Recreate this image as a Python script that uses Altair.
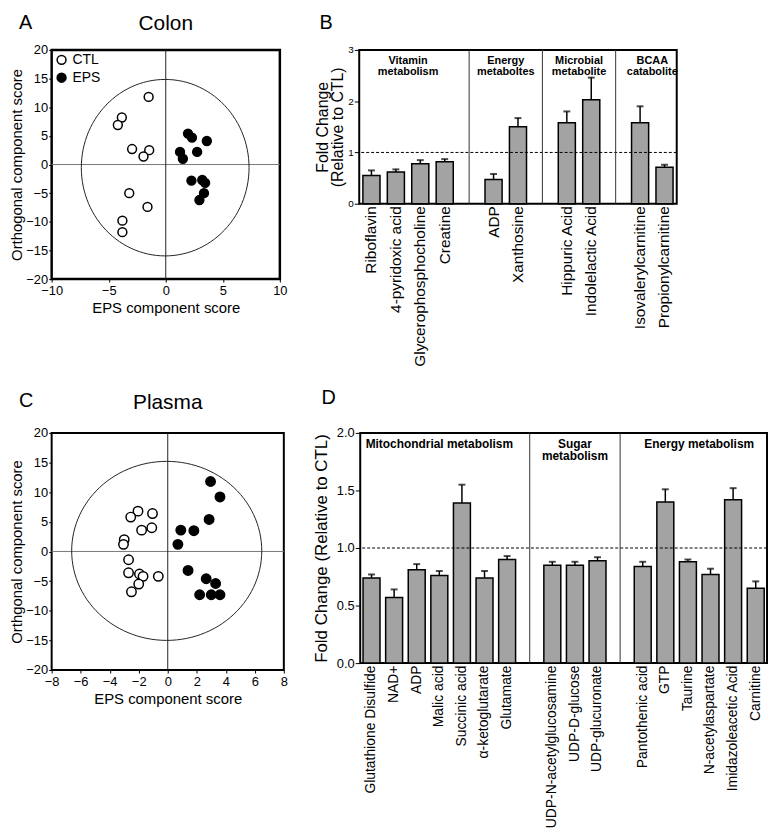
import altair as alt
import pandas as pd

FONT = "Liberation Sans"

# ---------------- Panel A: Colon scores ----------------
colon_ctl_x = [-1.5, -3.85, -4.2, -2.95, -1.45, -1.95, -3.2, -1.6, -3.8, -3.8]
colon_ctl_y = [11.8, 8.2, 6.9, 2.7, 2.5, 1.4, -5.0, -7.4, -9.8, -11.8]
colon_eps_x = [1.95, 2.3, 3.6, 1.25, 1.5, 2.75, 2.25, 3.2, 3.45, 3.35, 2.95]
colon_eps_y = [5.4, 4.7, 4.1, 2.2, 1.0, 2.2, -2.8, -2.7, -3.2, -5.0, -6.2]
colon_ellipse = {"cx": -0.05, "cy": -0.55, "rx": 7.35, "ry": 15.4}

# ---------------- Panel C: Plasma scores ----------------
plasma_ctl_x = [-2.05, -2.55, -1.05, -1.8, -1.1, -3.0, -3.05, -2.7, -2.7, -1.95, -1.7, -0.65, -2.0, -2.5]
plasma_ctl_y = [6.8, 5.8, 6.4, 3.6, 4.0, 2.0, 1.2, -1.4, -3.6, -3.8, -4.2, -4.2, -5.5, -6.8]
plasma_eps_x = [2.95, 3.6, 2.85, 0.9, 1.8, 0.7, 1.4, 2.65, 3.3, 2.2, 3.0, 3.6]
plasma_eps_y = [11.8, 9.2, 5.4, 3.6, 3.5, 1.2, -3.2, -4.6, -5.4, -7.3, -7.3, -7.3]
plasma_ellipse = {"cx": -0.07, "cy": 0.1, "rx": 6.55, "ry": 15.1}

# ---------------- Panel B: Colon fold changes ----------------
colon_names = ["Riboflavin", "4-pyridoxic acid", "Glycerophosphocholine", "Creatine",
               "ADP", "Xanthosine", "Hippuric Acid", "Indolelactic Acid",
               "Isovalerylcarnitine", "Propionylcarnitine"]
colon_fc = [0.55, 0.62, 0.78, 0.82, 0.47, 1.50, 1.58, 2.03, 1.58, 0.71]
colon_err = [0.65, 0.67, 0.85, 0.87, 0.58, 1.67, 1.80, 2.46, 1.90, 0.76]
colon_groups = ["Vitamin\nmetabolism", "Energy\nmetaboltes", "Microbial\nmetabolite", "BCAA\ncatabolite"]
colon_group_sizes = [4, 2, 2, 2]

# ---------------- Panel D: Plasma fold changes ----------------
plasma_names = ["Glutathione Disulfide", "NAD+", "ADP", "Malic acid", "Succinic acid",
                "α-ketoglutarate", "Glutamate", "UDP-N-acetylglucosamine", "UDP-D-glucose",
                "UDP-glucuronate", "Pantothenic acid", "GTP", "Taurine", "N-acetylaspartate",
                "Imidazoleacetic Acid", "Carnitine"]
plasma_fc = [0.74, 0.57, 0.81, 0.76, 1.39, 0.74, 0.90, 0.85, 0.85, 0.89, 0.84, 1.40, 0.88, 0.77, 1.42, 0.65]
plasma_err = [0.77, 0.64, 0.86, 0.80, 1.55, 0.80, 0.93, 0.88, 0.88, 0.92, 0.88, 1.51, 0.90, 0.82, 1.52, 0.71]
plasma_groups = ["Mitochondrial metabolism", "Sugar\nmetabolism", "Energy metabolism"]
plasma_group_sizes = [7, 3, 6]


def text_layer(txt, dx, dy, size, align="left"):
    return alt.Chart(pd.DataFrame({"t": [txt]})).mark_text(
        fontSize=size, align=align, baseline="alphabetic", color="black"
    ).encode(text="t:N", x=alt.value(dx), y=alt.value(dy))


def scatter(ctl_x, ctl_y, eps_x, eps_y, ell, xdom, xticks, title, letter,
            ytitle, w, h, size, frame_w, ldy, tdy):
    df = pd.DataFrame({
        "x": ctl_x + eps_x,
        "y": ctl_y + eps_y,
        "g": ["CTL"] * len(ctl_x) + ["EPS"] * len(eps_x),
    })
    xs = alt.Scale(domain=xdom, nice=False, zero=False)
    ys = alt.Scale(domain=[-20, 20], nice=False, zero=False)
    common = dict(grid=False, domain=False, tickSize=3,
                  labelFontSize=13, titleFontSize=15, labelFlush=False,
                  labelOverlap=False)
    xax = alt.Axis(values=xticks, titlePadding=3, labelPadding=3, **common)
    yax = alt.Axis(values=[-20, -15, -10, -5, 0, 5, 10, 15, 20], titlePadding=1,
                   labelPadding=1, **common)
    X = lambda f: alt.X(f, scale=xs, axis=xax, title="EPS component score")
    Y = lambda f: alt.Y(f, scale=ys, axis=yax, title=ytitle)

    hline = alt.Chart(pd.DataFrame({"v": [0]})).mark_rule(color="#777", strokeWidth=1).encode(y=Y("v:Q"))
    vline = alt.Chart(pd.DataFrame({"v": [0]})).mark_rule(color="#222", strokeWidth=1).encode(x=X("v:Q"))
    ellipse = alt.Chart(alt.sequence(0, 361, 3, as_="t")).transform_calculate(
        ex=f"{ell['cx']} + {ell['rx']} * cos(datum.t * PI / 180)",
        ey=f"{ell['cy']} + {ell['ry']} * sin(datum.t * PI / 180)",
    ).mark_line(color="#222", strokeWidth=1).encode(x=X("ex:Q"), y=Y("ey:Q"), order="t:Q")
    pts = alt.Chart(df).mark_point(
        shape="circle", filled=True, size=size, stroke="black", strokeWidth=1.5, opacity=1
    ).encode(
        x=X("x:Q"), y=Y("y:Q"),
        fill=alt.Fill("g:N", scale=alt.Scale(domain=["CTL", "EPS"], range=["white", "black"]),
                      legend=alt.Legend(title=None, orient="top-left", offset=1, padding=2,
                                        labelFontSize=14, symbolSize=size, symbolType="circle",
                                        symbolStrokeColor="black", symbolStrokeWidth=1.5,
                                        rowPadding=2, labelOffset=4, labelColor="black")),
    )
    lab = text_layer(letter, -33, ldy, 20)
    ttl = text_layer(title, w / 2, tdy, 21, align="center")
    return alt.layer(hline, vline, ellipse, pts, lab, ttl).properties(
        width=w, height=h,
        view=alt.ViewBackground(stroke="black", strokeWidth=frame_w),
    )


def barchart(names, fc, err, groups, sizes, ymax, yvals, yfmt, ytitle, w, h, p,
             lab_fs, tick_fs, title_fs, title_pad, glab_fs, glab_y, letter, ldx, ldy):
    slots, centers, seps = [], [], []
    k = 0
    for gi, n in enumerate(sizes):
        start = len(slots)
        slots += names[k:k + n]
        k += n
        centers.append((start + len(slots)) / 2)
        if gi < len(sizes) - 1:
            seps.append(len(slots) + 0.5)
            slots.append(f"gap{gi}")
    nslots = len(slots)

    df = pd.DataFrame({"name": names, "fc": fc, "err": err})
    xs = alt.Scale(domain=slots, paddingInner=p, paddingOuter=p / 2)
    xax = alt.Axis(labelAngle=-90, ticks=False, domain=False, labelPadding=2,
                   labelFontSize=lab_fs, labelLimit=400,
                   labelExpr="indexof(datum.value, 'gap') == 0 ? '' : datum.value")
    ys = alt.Scale(domain=[0, ymax], nice=False, zero=True)
    yax = alt.Axis(values=yvals, format=yfmt, grid=False, domain=False, tickSize=5,
                   labelPadding=1, labelFontSize=tick_fs, titleFontSize=title_fs,
                   titlePadding=title_pad, titleLineHeight=title_fs - 1)
    X = alt.X("name:N", scale=xs, axis=xax, title=None, sort=None)
    Y = lambda f: alt.Y(f, scale=ys, axis=yax, title=ytitle)

    bars = alt.Chart(df).mark_bar(color="#a3a3a3", stroke="black", strokeWidth=1.5).encode(x=X, y=Y("fc:Q"))
    ebar = alt.Chart(df).mark_rule(color="black", strokeWidth=1.5).encode(x=X, y=Y("fc:Q"), y2="err:Q")
    caps = alt.Chart(df).mark_tick(color="black", thickness=2, size=7).encode(x=X, y=Y("err:Q"))
    dash = alt.Chart(pd.DataFrame({"v": [1]})).mark_rule(
        color="black", strokeWidth=1, strokeDash=[3, 2]).encode(y=Y("v:Q"))
    inner = alt.layer(bars, ebar, caps, dash)

    qs = alt.Scale(domain=[0, nslots], nice=False, zero=False)
    sep = alt.Chart(pd.DataFrame({"s": seps})).mark_rule(color="#333", strokeWidth=1).encode(
        x=alt.X("s:Q", scale=qs, axis=None))
    glab = alt.Chart(pd.DataFrame({"c": centers, "label": groups})).mark_text(
        fontWeight="bold", fontSize=glab_fs, lineBreak="\n", baseline="top",
        lineHeight=glab_fs + 0.5, color="black"
    ).encode(x=alt.X("c:Q", scale=qs, axis=None), y=alt.value(glab_y), text="label:N")
    lab = text_layer(letter, ldx, ldy, 20)
    return alt.layer(inner, sep, glab, lab).resolve_scale(x="independent").properties(
        width=w, height=h,
        view=alt.ViewBackground(stroke="black", strokeWidth=2),
    )


A = scatter(colon_ctl_x, colon_ctl_y, colon_eps_x, colon_eps_y, colon_ellipse,
            [-10, 10], [-10, -5, 0, 5, 10], "Colon", "A",
            "Orthogonal component score", 230, 231, 80, 2.5, -21, -20)
C = scatter(plasma_ctl_x, plasma_ctl_y, plasma_eps_x, plasma_eps_y, plasma_ellipse,
            [-8, 8], [-8, -6, -4, -2, 0, 2, 4, 6, 8], "Plasma", "C",
            "Orthgonal component score", 234, 239, 90, 2, -26, -24)
B = barchart(colon_names, colon_fc, colon_err, colon_groups, colon_group_sizes,
             3, [0, 1, 2, 3], "d", ["Fold Change", "(Relative to CTL)"], 320, 155, 0.3,
             15.5, 10, 16, 2, 11, 5, "B", -40, -21)
D = barchart(plasma_names, plasma_fc, plasma_err, plasma_groups, plasma_group_sizes,
             2, [0, 0.5, 1, 1.5, 2], ".1f", "Fold Change (Relative to CTL)", 410, 232, 0.25,
             14, 13, 17, 6, 12, 6, "D", -39, -29)

row1 = alt.hconcat(A, B, spacing=25)
row2 = alt.hconcat(C, D, spacing=22)
chart = alt.vconcat(row1, row2, spacing=20).properties(padding=0).configure(
    font=FONT
).configure_axis(
    labelColor="black", titleColor="black", tickColor="black", titleFontWeight="normal",
    labelFont=FONT, titleFont=FONT
).configure_legend(labelFont=FONT)

chart.save("out.html", embed_options={"renderer": "svg", "actions": False})
